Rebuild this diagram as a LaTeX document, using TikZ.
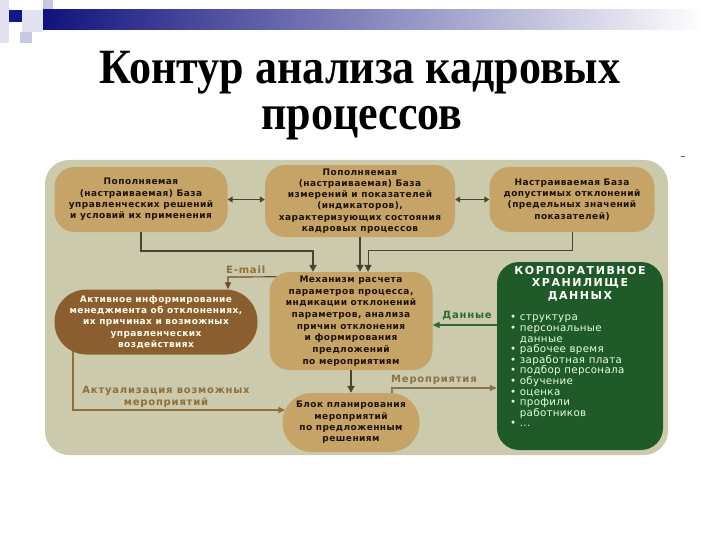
\documentclass[tikz,border=0pt]{standalone}
\usepackage{fontspec}
\setmainfont{Liberation Serif}
\newfontfamily\boxfont[LetterSpace=5]{DejaVu Sans}
\newfontfamily\lblfont[LetterSpace=8]{DejaVu Sans}
\newfontfamily\gtfont[LetterSpace=14]{DejaVu Sans}
\newfontfamily\glfont[LetterSpace=3]{DejaVu Sans}
\usetikzlibrary{arrows.meta}
\definecolor{panel}{HTML}{CBCAAC}
\definecolor{tan}{HTML}{C6A467}
\definecolor{brownbox}{HTML}{8B5E2F}
\definecolor{greenbox}{HTML}{1F5A28}
\definecolor{conndark}{HTML}{4A452A}
\definecolor{tantext}{HTML}{8F6F3A}
\definecolor{greenlbl}{HTML}{2E6B2E}
\definecolor{navy}{HTML}{14148C}
\definecolor{lav}{HTML}{C8C8E2}
\definecolor{lavlight}{HTML}{E2E2F0}
\begin{document}
\begin{tikzpicture}[x=1pt,y=-1pt,
  tanbox/.style={draw=none,fill=tan,rounded corners=20pt,align=center,inner sep=2pt,
    text=black!85!brown,font=\boxfont\bfseries\fontsize{9}{11.3}\selectfont},
  conn/.style={draw=conndark,line width=1.8pt,-{Triangle[length=7pt,width=7pt]}},
  dbl/.style={draw=conndark,line width=1.8pt,{Triangle[length=5pt,width=6pt]}-{Triangle[length=5pt,width=6pt]}},
  thin/.style={draw=conndark,line width=1pt},
  tanconn/.style={draw=tantext,line width=1.4pt,-{Triangle[length=7pt,width=6pt]}},
  lbl/.style={font=\lblfont\bfseries\fontsize{10}{12}\selectfont,align=center,inner sep=0pt}
]
\useasboundingbox (0,0) rectangle (720,540);
\fill[white] (0,0) rectangle (720,540);
% decoration
\fill[lavlight] (0,0) rectangle (9,43);
\fill[lav] (43,0) rectangle (53,10);
\fill[lavlight] (22,10) rectangle (43,32);
\fill[lav] (20,32) rectangle (32,43);
\shade[left color=navy!90!black,right color=white] (43,10) rectangle (705,30);
\fill[navy] (9,10) rectangle (22,22);
% title
\node[font=\bfseries\fontsize{44}{50}\selectfont,inner sep=0pt] (title1) at (360,73) {\scalebox{1}[1.12]{Контур анализа кадровых}};
\node[font=\bfseries\fontsize{44}{50}\selectfont,inner sep=0pt] (title2) at (362,123) {\scalebox{1}[1.12]{процессов}};
\draw[black!60,line width=0.6pt] (681,156) -- (685,156);
% panel
\fill[panel,rounded corners=24pt] (45,160) rectangle (668,455);
% boxes
\node[tanbox,minimum width=173pt,minimum height=65pt] (b1) at (141,199.5)
  {Пополняемая\\(настраиваемая) База\\управленческих решений\\и условий их применения};
\node[tanbox,minimum width=190pt,minimum height=72pt] (b2) at (360,201)
  {Пополняемая\\(настраиваемая) База\\измерений и показателей\\(индикаторов),\\характеризующих состояния\\кадровых процессов};
\node[tanbox,minimum width=165pt,minimum height=65pt] (b3) at (572,199.5)
  {Настраиваемая База\\допустимых отклонений\\(предельных значений\\показателей)};
\node[tanbox,fill=brownbox,text=white!92!yellow,rounded corners=32pt,minimum width=203pt,minimum height=65pt] (b4) at (156,322)
  {Активное информирование\\менеджмента об отклонениях,\\их причинах и возможных\\управленческих\\воздействиях};
\node[tanbox,minimum width=163pt,minimum height=98pt,font=\boxfont\bfseries\fontsize{9}{11.7}\selectfont] (b5) at (351,321)
  {Механизм расчета\\параметров процесса,\\индикации отклонений\\параметров, анализа\\причин отклонения\\и формирования\\предложений\\по мероприятиям};
\node[tanbox,rounded corners=29pt,minimum width=137pt,minimum height=59pt] (b7) at (351,422.5)
  {Блок планирования\\мероприятий\\по предложенным\\решениям};
\node[fill=greenbox,rounded corners=22pt,minimum width=166pt,minimum height=188pt,inner sep=0pt] (green) at (580,356) {};
\node[font=\gtfont\bfseries\fontsize{11}{12.5}\selectfont,text=white,align=center,inner sep=0pt,anchor=north] (gtitle) at (580,266)
  {КОРПОРАТИВНОЕ\\ХРАНИЛИЩЕ\\ДАННЫХ};
\node[font=\glfont\fontsize{10.3}{10.6}\selectfont,text=white!90!green,align=left,inner sep=0pt,anchor=north west] (glist) at (510,315)
  {•\ структура\\•\ персональные\\\phantom{•}\ данные\\•\ рабочее время\\•\ заработная плата\\•\ подбор персонала\\•\ обучение\\•\ оценка\\•\ профили\\\phantom{•}\ работников\\•\ ...};
% connectors
\draw[dbl] (b1.east) -- (b2.west |- b1.east);
\draw[dbl] (b2.east |- b3.west) -- (b3.west);
\draw[conn] (b1.south) -- ++(0,19) -| ([xshift=-38pt]b5.north);
\draw[conn] (b2.south) -- (b2.south |- b5.north);
\draw[thin,-{Triangle[length=7pt,width=7pt]}] (b3.south) -- ++(0,18) -| ([xshift=17pt]b5.north);
\coordinate (em) at (228,277);
\draw[draw=brownbox!80!black,line width=1.2pt,-{Triangle[length=7pt,width=6pt]}] ([shift={(7,5)}]b5.north west) -- (em) -- (em |- b4.north);
\node[lbl,text=tantext,anchor=south west] (emaillbl) at (226,274) {E-mail};
\draw[draw=greenlbl,line width=1.5pt,-{Triangle[length=7pt,width=6pt]}] (green.west |- 0,325) -- (b5.east |- 0,325);
\node[lbl,text=greenlbl,anchor=south] (datalbl) at (467,320) {Данные};
\coordinate (act) at (73,410);
\draw[tanconn] (73,351) -- (act) -- ([xshift=3pt]b7.west |- act);
\node[lbl,text=tantext] (actlbl) at (166,397) {Актуализация возможных\\мероприятий};
\draw[conn] (b5.south) -- (b7.north);
\coordinate (mer) at (392,388);
\draw[draw=tantext!80!gray,line width=1.2pt,-{Triangle[length=7pt,width=6pt]}] (392,393) -- (mer) -- (green.west |- mer);
\node[lbl,text=tantext!80!gray,anchor=south west] (merlbl) at (391,385) {Мероприятия};
\end{tikzpicture}
\end{document}
